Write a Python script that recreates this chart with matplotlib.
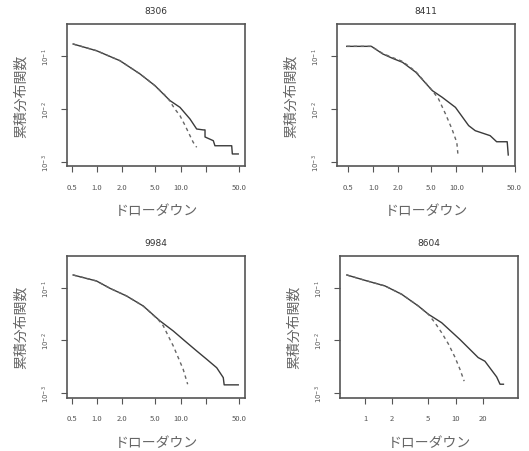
import matplotlib
matplotlib.use("Agg")
import matplotlib.pyplot as plt
from matplotlib.ticker import FixedLocator, NullLocator, FixedFormatter

plt.rcParams['font.family'] = ['Noto Sans CJK JP', 'DejaVu Sans']

titles = ["8306", "8411", "9984", "8604"]
xlabel = "ドローダウン"
ylabel = "累積分布関数"

# empirical curves (solid)
emp_x = [
    [0.52, 0.99, 1.88, 3.27, 4.93, 7.45, 9.8, 12.9, 15.5, 18.6, 19.5, 19.5, 24.5, 25.6, 40.6, 41.3, 48.6],
    [0.48, 0.95, 1.30, 1.71, 2.25, 3.25, 5.13, 6.74, 9.72, 14.0, 16.8, 25.4, 30.4, 40.7, 41.9],
    [0.52, 0.99, 1.43, 2.26, 3.57, 5.66, 8.15, 11.2, 15.5, 20.4, 26.9, 32.2, 33.0, 48.6],
    [0.63, 1.0, 1.66, 2.54, 3.87, 5.0, 7.0, 11.1, 17.7, 21.0, 28.3, 30.8, 33.6],
]
emp_y = [
    [0.166, 0.124, 0.0805, 0.0452, 0.0272, 0.0142, 0.0106, 0.0064, 0.00414, 0.00398, 0.00398, 0.00293, 0.00249, 0.0020, 0.0020, 0.0014, 0.0014],
    [0.150, 0.150, 0.108, 0.089, 0.075, 0.0487, 0.0219, 0.0164, 0.0106, 0.0048, 0.00385, 0.0031, 0.00238, 0.00238, 0.00134],
    [0.18, 0.138, 0.100, 0.0712, 0.0458, 0.0237, 0.0152, 0.0098, 0.0063, 0.00437, 0.0030, 0.00194, 0.00141, 0.00141],
    [0.18, 0.142, 0.111, 0.0767, 0.0458, 0.0318, 0.0219, 0.0105, 0.0047, 0.0040, 0.0020, 0.00145, 0.00145],
]

# fitted curves (dashed)
fit_x = [
    [0.52, 0.99, 1.88, 3.27, 4.93, 7.0, 8.5, 9.8, 11.3, 12.9, 14.1, 15.5],
    [0.48, 0.95, 1.30, 1.71, 2.25, 3.25, 5.13, 6.1, 7.4, 8.85, 10.1, 10.4],
    [0.52, 0.99, 1.43, 2.26, 3.57, 5.4, 6.2, 7.1, 8.15, 9.35, 10.7, 12.1],
    [0.63, 1.0, 1.66, 2.54, 3.87, 5.0, 5.9, 7.0, 8.3, 9.8, 11.1, 12.4],
]
fit_y = [
    [0.166, 0.124, 0.0805, 0.0452, 0.0272, 0.0160, 0.0099, 0.00738, 0.00479, 0.0031, 0.00232, 0.00187],
    [0.150, 0.150, 0.110, 0.092, 0.078, 0.0500, 0.0219, 0.0152, 0.0079, 0.0041, 0.0023, 0.0014],
    [0.18, 0.138, 0.100, 0.0712, 0.0458, 0.0250, 0.019, 0.0122, 0.00785, 0.00468, 0.0028, 0.00145],
    [0.18, 0.142, 0.111, 0.0767, 0.0458, 0.0318, 0.0219, 0.0141, 0.0086, 0.0048, 0.00285, 0.00166],
]

xticks = [
    [0.5, 1, 2, 5, 10, 20, 50],
    [0.5, 1, 2, 5, 10, 20, 50],
    [0.5, 1, 2, 5, 10, 20, 50],
    [1, 2, 5, 10, 20],
]
xticklabels = [
    ["0.5", "1.0", "2.0", "5.0", "10.0", "", "50.0"],
    ["0.5", "1.0", "2.0", "5.0", "10.0", "", "50.0"],
    ["0.5", "1.0", "2.0", "5.0", "10.0", "", "50.0"],
    ["1", "2", "5", "10", "20"],
]
yticks = [0.1, 0.01, 0.001]
yticklabels = [r"$10^{-1}$", r"$10^{-2}$", r"$10^{-3}$"]

xlims = [(0.443, 58.5), (0.37, 50.5), (0.443, 58.5), (0.53, 49.0)]
ylims = [(0.00083, 0.396), (0.00083, 0.396), (0.0008, 0.416), (0.0008, 0.416)]

W, H = 529, 452
boxes = [  # left, top, right, bottom in pixels
    (67.3, 25, 245, 167),
    (337.3, 25, 515, 167),
    (67.3, 257, 245, 398.7),
    (340, 257, 518.3, 398.7),
]

fig = plt.figure(figsize=(W / 100, H / 100), dpi=100)
col = "#555555"
for i in range(4):
    l, t, r, b = boxes[i]
    ax = fig.add_axes([l / W, 1 - b / H, (r - l) / W, (b - t) / H])
    ax.set_xscale("log")
    ax.set_yscale("log")
    ax.plot(emp_x[i], emp_y[i], color="#3a3a3a", lw=1.0)
    ax.plot(fit_x[i], fit_y[i], color="#666666", lw=1.0, ls=(0, (2.5, 2.5)))
    ax.set_xlim(*xlims[i])
    ax.set_ylim(*ylims[i])
    ax.xaxis.set_major_locator(FixedLocator(xticks[i]))
    ax.xaxis.set_major_formatter(FixedFormatter(xticklabels[i]))
    ax.xaxis.set_minor_locator(NullLocator())
    ax.yaxis.set_major_locator(FixedLocator(yticks))
    ax.yaxis.set_major_formatter(FixedFormatter(yticklabels))
    ax.yaxis.set_minor_locator(NullLocator())
    for s in ax.spines.values():
        s.set_color("#555555")
        s.set_linewidth(1.2)
    ax.tick_params(axis="x", length=4, width=0.8, color=col, labelsize=5.5, pad=8, labelcolor="#555555")
    ax.tick_params(axis="y", length=4, width=0.8, color=col, labelsize=5, pad=7, labelcolor="#555555")
    for lab in ax.get_yticklabels():
        lab.set_rotation(90)
        lab.set_va("center")
    ax.set_title(titles[i], fontsize=6.5, pad=8, color="#333333", family="DejaVu Sans")
    ax.set_xlabel(xlabel, fontsize=10, labelpad=9, color="#666666")
    ax.set_ylabel(ylabel, fontsize=10, labelpad=9, color="#666666")

fig.savefig("out.png", dpi=100)
